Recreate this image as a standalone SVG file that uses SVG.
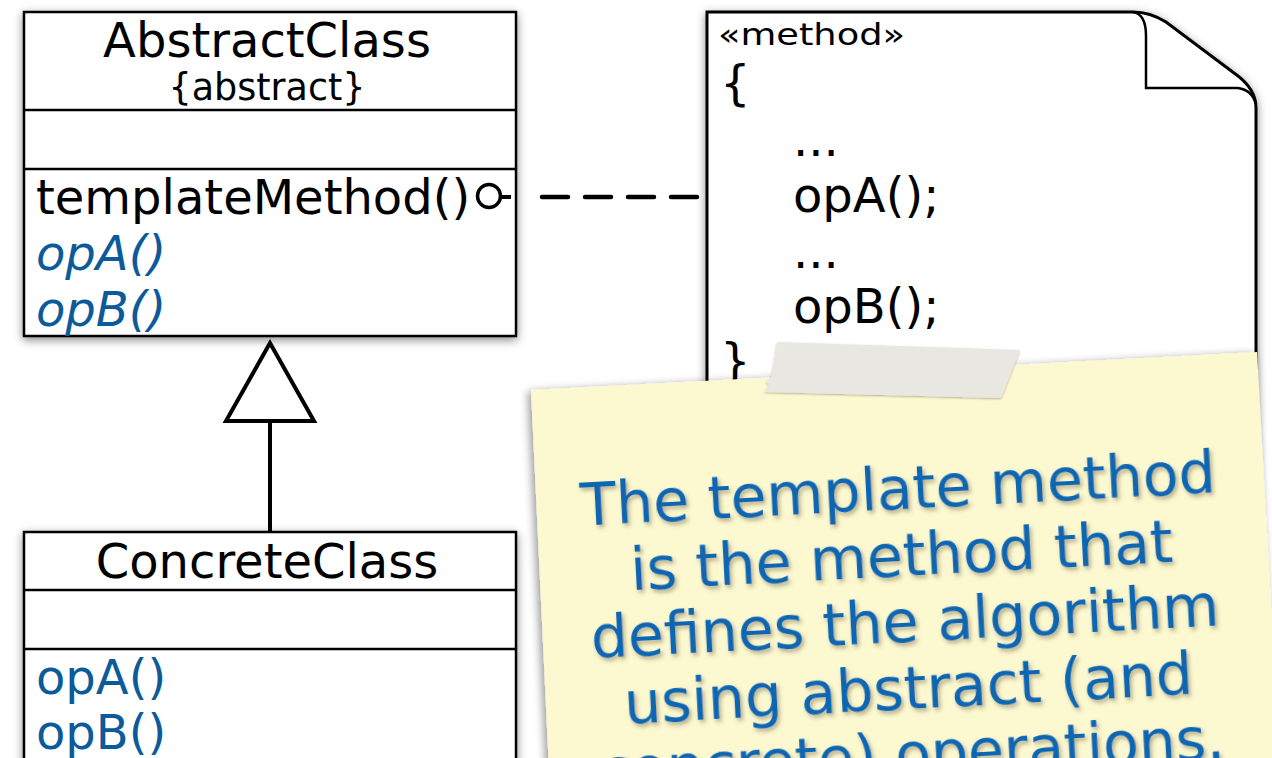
<svg xmlns="http://www.w3.org/2000/svg" width="1272" height="758" viewBox="0 0 1272 758">
<defs>
<style>
.box{fill:#fff;stroke:#000;stroke-width:2.5}
.div{stroke:#000;stroke-width:2.5}
.t{font-family:"DejaVu Sans","Liberation Sans",sans-serif;fill:#000}
.blue{fill:#0b5a9a}
.sticky{font-family:"DejaVu Sans","Liberation Sans",sans-serif;fill:#0a66b2;font-size:58.5px;text-anchor:middle}
</style>
<filter id="sh" x="-10%" y="-10%" width="120%" height="120%">
<feDropShadow dx="0" dy="3" stdDeviation="5" flood-color="#000" flood-opacity="0.45"/>
</filter>
<filter id="sh2" x="-10%" y="-10%" width="120%" height="120%">
<feDropShadow dx="-3" dy="2" stdDeviation="4" flood-color="#000" flood-opacity="0.4"/>
</filter>
<filter id="tsh" x="-5%" y="-20%" width="110%" height="140%">
<feDropShadow dx="2" dy="3" stdDeviation="2" flood-color="#5a5530" flood-opacity="0.45"/>
</filter>
<filter id="tape" x="-5%" y="-20%" width="110%" height="140%">
<feDropShadow dx="0" dy="1" stdDeviation="1.2" flood-color="#000" flood-opacity="0.3"/>
</filter>
</defs>
<rect width="1272" height="758" fill="#fff"/>

<g id="AbstractClass">
<rect class="box" x="24" y="12" width="492" height="324" filter="url(#sh)"/>
<line class="div" x1="24" y1="110" x2="516" y2="110"/>
<line class="div" x1="24" y1="169" x2="516" y2="169"/>
<text class="t" x="267" y="57" font-size="48" text-anchor="middle">AbstractClass</text>
<text class="t" x="267" y="100" font-size="36.5" text-anchor="middle">{abstract}</text>
<text class="t" x="36" y="214" font-size="48">templateMethod()</text>
<text class="t blue" x="36" y="270" font-size="48" font-style="italic">opA()</text>
<text class="t blue" x="36" y="326" font-size="48" font-style="italic">opB()</text>
</g>

<g id="ConcreteClass">
<rect class="box" x="24" y="532" width="492" height="240" filter="url(#sh)"/>
<line class="div" x1="24" y1="590" x2="516" y2="590"/>
<line class="div" x1="24" y1="649" x2="516" y2="649"/>
<text class="t" x="267" y="578" font-size="48" text-anchor="middle">ConcreteClass</text>
<text class="t blue" x="36" y="694" font-size="48">opA()</text>
<text class="t blue" x="36" y="749" font-size="48">opB()</text>
</g>

<g id="MethodNote">
<path d="M707,12 H1133 Q1150,12 1166,22 L1238,76 Q1256,90 1256,108 V770 H707 Z" fill="#fff" stroke="#000" stroke-width="3" filter="url(#sh)"/>
<path d="M1133,12 Q1146,14 1146,36 V88 H1238 Q1252,90 1256,104" fill="none" stroke="#000" stroke-width="2.5"/>
<text class="t" x="718" y="45" font-size="31" textLength="187" lengthAdjust="spacingAndGlyphs">«method»</text>
<text class="t" x="720" y="100" font-size="48">{</text>
<text class="t" x="793" y="156" font-size="48">...</text>
<text class="t" x="793" y="212" font-size="48">opA();</text>
<text class="t" x="793" y="268" font-size="48">...</text>
<text class="t" x="793" y="323" font-size="48">opB();</text>
<text class="t" x="720" y="378" font-size="48">}</text>
</g>

<g id="connectors">
<polygon points="270,343 226,421 314,421" fill="#fff" stroke="#000" stroke-width="4" stroke-linejoin="miter"/>
<line x1="270" y1="421" x2="270" y2="532" stroke="#000" stroke-width="4"/>
<circle cx="489" cy="196" r="11.5" fill="#fff" stroke="#000" stroke-width="3.5"/>
<line x1="500" y1="197" x2="511" y2="197" stroke="#000" stroke-width="4"/>
<line x1="542" y1="197" x2="697" y2="197" stroke="#000" stroke-width="4.5" stroke-dasharray="26 17" stroke-linecap="round"/>
</g>

<g id="StickyNote">
<polygon points="531,390 1257,352 1280,770 549,770" fill="#fcf8d0" filter="url(#sh2)"/>
<g transform="translate(899,509) rotate(-3)" filter="url(#tsh)">
<text class="sticky" x="0" y="0">The template method</text>
<text class="sticky" x="0" y="66.5">is the method that</text>
<text class="sticky" x="0" y="133">defines the algorithm</text>
<text class="sticky" x="0" y="199.5">using abstract (and</text>
<text class="sticky" x="0" y="266">concrete) operations.</text>
</g>
<path d="M777,342 L1020,350 L1001,398 L764,392 L769,386 L766,381 L771,378 Z" fill="#e9e7e2" filter="url(#tape)"/>
</g>
</svg>
